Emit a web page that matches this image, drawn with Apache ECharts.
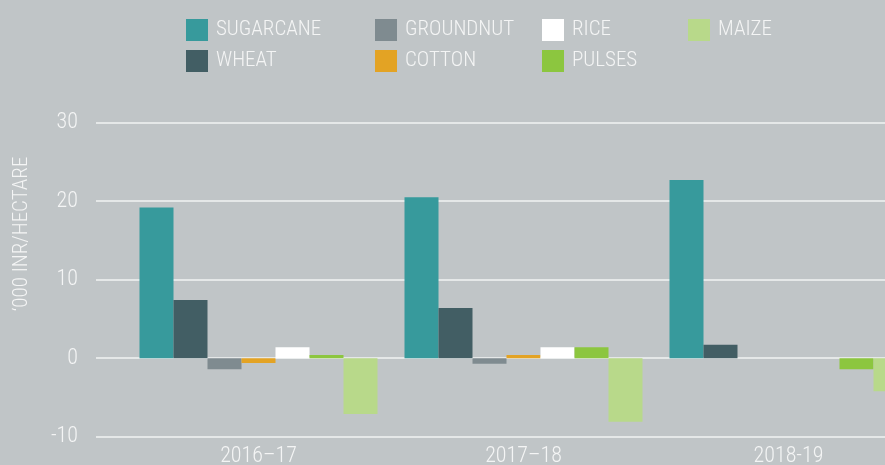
<!DOCTYPE html>
<html>
<head>
<meta charset="utf-8">
<script src="https://cdn.jsdelivr.net/npm/echarts@6/dist/echarts.min.js"></script>
<style>
  html, body { margin: 0; padding: 0; background: #c0c5c7; }
  #chart { width: 885px; height: 465px; }
</style>
</head>
<body>
<div id="chart"></div>
<script>
// categories and values ('000 INR/hectare)
const years = ['2016–17', '2017–18', '2018-19']
const sugarcane = [19.2, 20.5, 22.7]
const wheat = [7.4, 6.4, 1.7]
const groundnut = [-1.4, -0.7, 0]
const cotton = [-0.6, 0.4, 0]
const rice = [1.4, 1.4, 0]
const pulses = [0.4, 1.4, -1.4]
const maize = [-7.1, -8.1, -4.2]
const yTicks = [-10, 0, 10, 20, 30]

const font = '"Roboto Condensed", "Noto Sans", sans-serif'
const txt = '#f4f5f5'

const colors = {
  SUGARCANE: '#379a9c',
  WHEAT: '#425e64',
  GROUNDNUT: '#7f8b90',
  COTTON: '#e3a324',
  RICE: '#ffffff',
  PULSES: '#8cc63f',
  MAIZE: '#b8d98a'
}
const seriesData = [
  ['SUGARCANE', sugarcane],
  ['WHEAT', wheat],
  ['GROUNDNUT', groundnut],
  ['COTTON', cotton],
  ['RICE', rice],
  ['PULSES', pulses],
  ['MAIZE', maize]
]

// legend is laid out in columns, one legend per column
const legendCols = [
  [186, ['SUGARCANE', 'WHEAT']],
  [375, ['GROUNDNUT', 'COTTON']],
  [542, ['RICE', 'PULSES']],
  [688, ['MAIZE']]
]

const gridTop = 122.7
const gridBottom = 28.3

let myChart = echarts.init(document.getElementById('chart'))

let option = {
  backgroundColor: '#c0c5c7',
  animation: false,
  textStyle: { fontFamily: font, fontWeight: 300 },
  legend: legendCols.map(c => ({
    left: c[0],
    top: 19,
    padding: 0,
    orient: 'vertical',
    itemWidth: 22,
    itemHeight: 22,
    itemGap: 9,
    icon: 'rect',
    data: c[1],
    textStyle: { color: txt, fontSize: 21, fontFamily: font, fontWeight: 300, padding: [2, 0, 0, 3] }
  })),
  grid: [
    // grid for the y axis and its gridlines
    { left: 96, right: 0, top: gridTop, bottom: gridBottom, outerBoundsMode: 'none' },
    // grid for the bars (wider, the picture is cropped on the right)
    { left: 126, right: -36, top: gridTop, bottom: gridBottom, outerBoundsMode: 'none' }
  ],
  xAxis: [
    { type: 'category', gridIndex: 0, data: years, show: false },
    {
      type: 'category',
      gridIndex: 1,
      data: years,
      axisLine: { show: false, onZero: false },
      axisTick: { show: false },
      axisLabel: { color: txt, fontSize: 22, fontFamily: font, fontWeight: 300, margin: 9 }
    }
  ],
  yAxis: [
    {
      type: 'value',
      gridIndex: 0,
      min: yTicks[0],
      max: yTicks[yTicks.length - 1],
      interval: 10,
      axisLine: { show: false },
      axisTick: { show: false },
      axisLabel: { color: txt, fontSize: 22, fontFamily: font, fontWeight: 300, margin: 18 },
      splitLine: { lineStyle: { color: '#f2f3f3', width: 1.5 } }
    },
    {
      type: 'value',
      gridIndex: 1,
      min: yTicks[0],
      max: yTicks[yTicks.length - 1],
      interval: 10,
      show: false,
      splitLine: { show: false }
    }
  ],
  graphic: [
    {
      type: 'text',
      x: 22,
      y: 234,
      rotation: Math.PI / 2,
      style: {
        text: '‘000 INR/HECTARE',
        fill: txt,
        fontSize: 21,
        fontFamily: font,
        fontWeight: 300,
        align: 'center',
        verticalAlign: 'middle'
      }
    }
  ],
  series: seriesData.map(s => ({
    name: s[0],
    type: 'bar',
    xAxisIndex: 1,
    yAxisIndex: 1,
    data: s[1],
    barWidth: 34,
    barGap: '0%',
    itemStyle: { color: colors[s[0]] }
  }))
}
myChart.setOption(option)
</script>
</body>
</html>
